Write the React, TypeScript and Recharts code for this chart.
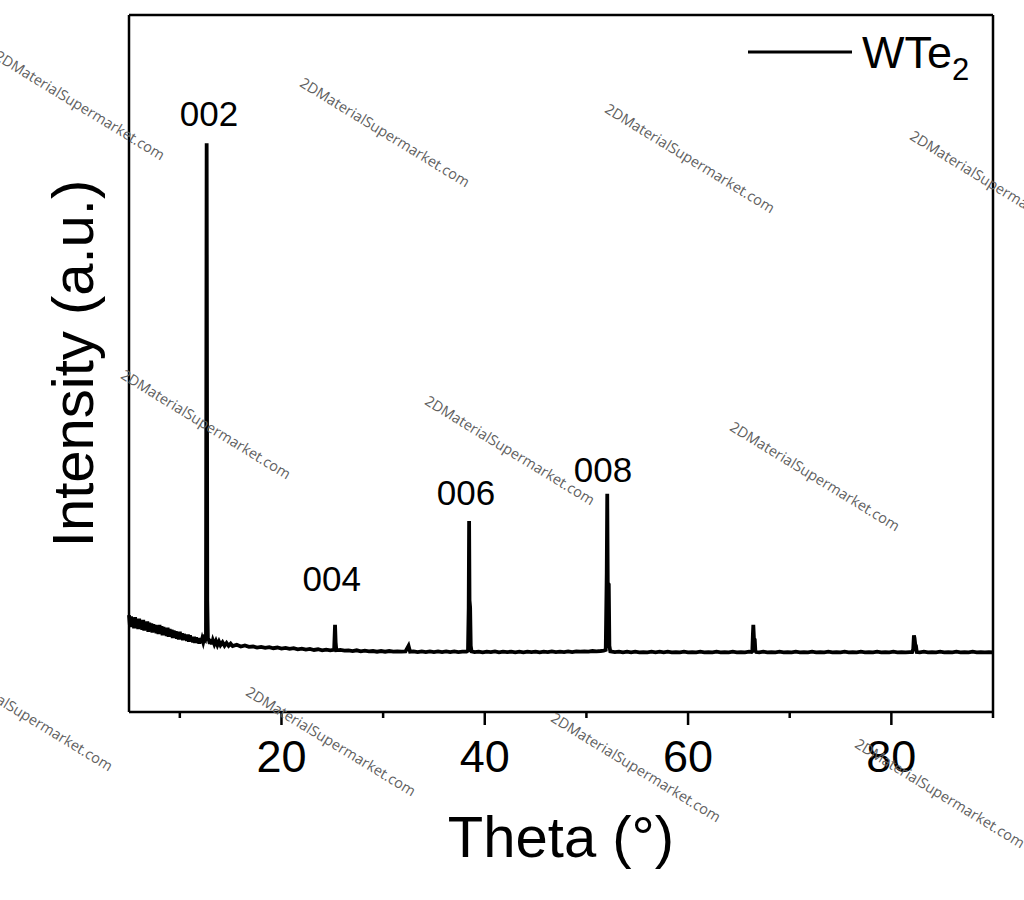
import { LineChart, Line, XAxis, YAxis, ReferenceDot } from "recharts"

// [2theta, counts], split by region
const lowAngleScan: [number, number][] = [
  [5.0, 139], [5.1, 122], [5.2, 137], [5.3, 124], [5.4, 135], [5.5, 120], [5.6, 136], [5.7, 121],
  [5.8, 133], [5.9, 119], [6.0, 134], [6.1, 120], [6.2, 131], [6.3, 118], [6.4, 132], [6.5, 117],
  [6.6, 129], [6.7, 118], [6.8, 130], [6.9, 115], [7.0, 128], [7.1, 116], [7.2, 127], [7.3, 114],
  [7.4, 126], [7.5, 115], [7.6, 125], [7.7, 113], [7.8, 124], [7.9, 112], [8.0, 125], [8.1, 112],
  [8.2, 123], [8.3, 110], [8.4, 122], [8.5, 111], [8.6, 120], [8.7, 109], [8.8, 121], [8.9, 108],
  [9.0, 119], [9.1, 108], [9.2, 118], [9.3, 106], [9.4, 117], [9.5, 107], [9.6, 116], [9.7, 105],
  [9.8, 115], [9.9, 104], [10.0, 115], [10.1, 105], [10.2, 113], [10.3, 103], [10.4, 112], [10.5, 104],
  [10.6, 111], [10.7, 102], [10.8, 111], [10.9, 101], [11.0, 110], [11.1, 102], [11.2, 108], [11.3, 100],
  [11.4, 108], [11.5, 99], [11.6, 107], [11.7, 99], [11.8, 106], [11.9, 98], [12.0, 106], [12.1, 99],
  [12.2, 105], [12.3, 100], [12.4, 106], [12.5, 104],
]

const peak002: [number, number][] = [[12.57, 110], [12.64, 816], [12.7, 160], [12.76, 105]]

const midScan: [number, number][] = [
  [12.85, 104], [12.95, 98], [13.05, 104], [13.15, 97], [13.25, 103], [13.4, 97], [13.55, 102],
  [13.7, 96], [13.85, 101], [14.0, 96], [14.2, 100], [14.4, 95], [14.6, 99], [14.8, 95], [15.0, 98],
  [15.2, 94.5], [15.6, 96.5], [16.0, 94], [16.4, 95.5], [16.8, 93.5], [17.2, 94], [17.6, 92.5],
  [18.0, 93.5], [18.4, 92], [18.8, 93], [19.2, 91.5], [19.6, 92.5], [20.0, 91], [20.4, 92], [20.8, 90.5],
  [21.2, 91.5], [21.6, 90], [22.0, 91], [22.4, 89.5], [22.8, 90.5], [23.2, 89], [23.6, 90], [24.0, 88.5],
  [24.4, 89.5], [24.8, 88.5], [25.1, 89],
]

const peak004: [number, number][] = [[25.18, 89], [25.27, 125], [25.33, 100], [25.4, 88.5]]

const scan25to38: [number, number][] = [
  [25.8, 89], [26.2, 88], [26.6, 88.5], [27.0, 87.5], [27.4, 88.5], [27.8, 87], [28.2, 88], [28.6, 87],
  [29.0, 87.5], [29.4, 86.5], [29.8, 87.5], [30.2, 86.5], [30.6, 87.5], [31.0, 86.5], [31.4, 87],
  [31.8, 86.5], [32.2, 87], [32.5, 95], [32.65, 86.5], [33.0, 87], [33.4, 86], [33.8, 87], [34.2, 86],
  [34.6, 87], [35.0, 86], [35.4, 87], [35.8, 86], [36.2, 87], [36.6, 86], [37.0, 87], [37.4, 86],
  [37.8, 86.5], [38.2, 86.5],
]

const peak006: [number, number][] = [
  [38.35, 88], [38.42, 150], [38.46, 274], [38.5, 160], [38.56, 150], [38.62, 95], [38.7, 87],
]

const scan38to52: [number, number][] = [
  [39.0, 86], [39.4, 86.5], [39.8, 85.5], [40.2, 86.5], [40.6, 86], [41.0, 87], [41.4, 85.5], [41.8, 86.5],
  [42.2, 86], [42.6, 86.5], [43.0, 85.5], [43.4, 86.5], [43.8, 85.5], [44.2, 86.5], [44.6, 86], [45.0, 86.5],
  [45.4, 85.5], [45.8, 86.5], [46.2, 86], [46.6, 87], [47.0, 86], [47.4, 86.5], [47.8, 86], [48.2, 87],
  [48.6, 86], [49.0, 87], [49.4, 86.5], [49.8, 87], [50.2, 86.5], [50.6, 87.5], [51.0, 87], [51.4, 87.5],
  [51.7, 88],
]

const peak008: [number, number][] = [
  [51.9, 89], [52.0, 200], [52.05, 313], [52.1, 185], [52.2, 183], [52.26, 95], [52.35, 87],
]

const scan52to66: [number, number][] = [
  [52.8, 86], [53.2, 86.5], [53.6, 85.5], [54.0, 86.5], [54.4, 85.5], [54.8, 86.5], [55.2, 85.5],
  [55.6, 86], [56.0, 85.5], [56.4, 86.5], [56.8, 85.5], [57.2, 86.5], [57.6, 85.5], [58.0, 86.5],
  [58.4, 85.5], [58.8, 86], [59.2, 85.5], [59.6, 86.5], [60.0, 85.5], [60.4, 86], [60.8, 85.5],
  [61.2, 86.5], [61.6, 85.5], [62.0, 86], [62.4, 85.5], [62.8, 86.5], [63.2, 85.5], [63.6, 86],
  [64.0, 85.5], [64.4, 86.5], [64.8, 85.5], [65.2, 86], [65.6, 85.5], [66.0, 86.5], [66.25, 86],
]

const peak66: [number, number][] = [
  [66.32, 87], [66.38, 112], [66.42, 125], [66.48, 106], [66.56, 104], [66.62, 88], [66.7, 86],
]

const scan66to82: [number, number][] = [
  [67.0, 85.5], [67.4, 86.5], [67.8, 85.5], [68.2, 86], [68.6, 85.5], [69.0, 86.5], [69.4, 85.5],
  [69.8, 86], [70.2, 85.5], [70.6, 86.5], [71.0, 85.5], [71.4, 86], [71.8, 85.5], [72.2, 86.5],
  [72.6, 85.5], [73.0, 86], [73.4, 85.5], [73.8, 86.5], [74.2, 85.5], [74.6, 86], [75.0, 85.5],
  [75.4, 86.5], [75.8, 85.5], [76.2, 86], [76.6, 85.5], [77.0, 86.5], [77.4, 85.5], [77.8, 86],
  [78.2, 85.5], [78.6, 86.5], [79.0, 85.5], [79.4, 86], [79.8, 85.5], [80.2, 86.5], [80.6, 85.5],
  [81.0, 86], [81.4, 85.5], [81.8, 86], [82.05, 86],
]

const peak82: [number, number][] = [
  [82.15, 90], [82.22, 110], [82.28, 106], [82.35, 97], [82.42, 95], [82.5, 86],
]

const highAngleScan: [number, number][] = [
  [82.8, 85.5], [83.2, 86.5], [83.6, 85.5], [84.0, 86], [84.4, 85.5], [84.8, 86.5], [85.2, 85.5],
  [85.6, 86], [86.0, 85.5], [86.4, 86.5], [86.8, 85.5], [87.2, 86], [87.6, 85.5], [88.0, 86.5],
  [88.4, 85.5], [88.8, 86], [89.2, 85.5], [89.6, 86], [90.0, 85.5],
]

const thetaTicks = [10, 20, 30, 40, 50, 60, 70, 80, 90]
const majorTicks = [20, 40, 60, 80]

const peakLabels = [
  { hkl: "002", theta: 12.87, counts: 841 },
  { hkl: "004", theta: 24.94, counts: 173 },
  { hkl: "006", theta: 38.15, counts: 297 },
  { hkl: "008", theta: 51.63, counts: 330 },
]

const scan = [
  ...lowAngleScan, ...peak002, ...midScan, ...peak004, ...scan25to38, ...peak006,
  ...scan38to52, ...peak008, ...scan52to66, ...peak66, ...scan66to82, ...peak82, ...highAngleScan,
].map(([theta, counts]) => ({ theta, counts }))

const watermarkSpots = [
  [80, 105], [385, 132], [690, 158], [995, 185],
  [206, 424], [510, 450], [815, 476],
  [28, 716], [331, 741], [636, 767], [940, 793],
]

const FONT = "'Liberation Sans', Arial, sans-serif"
const frame = { stroke: "#000", strokeWidth: 2.5 }

function ThetaTick({ x, y, payload }: any) {
  const major = majorTicks.includes(payload.value)
  return (
    <g>
      <line x1={x} x2={x} y1={y} y2={y + (major ? 13 : 6)} stroke="#000" strokeWidth={2.5} />
      {major && (
        <text x={x} y={y + 60} textAnchor="middle" fontSize={45} fontFamily={FONT} fill="#000">
          {payload.value}
        </text>
      )}
    </g>
  )
}

function ThetaTitle({ viewBox }: any) {
  return (
    <text x={viewBox.x + viewBox.width / 2} y={viewBox.y + 145} textAnchor="middle" fontSize={58} fontFamily={FONT} fill="#000">
      Theta (°)
    </text>
  )
}

function IntensityTitle({ viewBox }: any) {
  const cx = viewBox.x + viewBox.width - 36
  const cy = viewBox.y + viewBox.height / 2
  return (
    <text x={cx} y={cy} transform={`rotate(-90, ${cx}, ${cy})`} textAnchor="middle" fontSize={58} fontFamily={FONT} fill="#000">
      Intensity (a.u.)
    </text>
  )
}

export default function App() {
  return (
    <div style={{ position: "absolute", left: 0, top: 0, width: 1024, height: 900, overflow: "hidden", background: "#fff" }}>
      <LineChart width={1024} height={900} data={scan} margin={{ top: 14, right: 30, bottom: 128, left: 89 }}>
        <XAxis
          type="number"
          dataKey="theta"
          domain={[5, 90]}
          ticks={thetaTicks}
          height={60}
          tickSize={0}
          tickMargin={0}
          tickLine={false}
          tick={<ThetaTick />}
          axisLine={frame}
          label={<ThetaTitle />}
        />
        <XAxis xAxisId="top" orientation="top" type="number" domain={[5, 90]} height={1} tick={false} tickLine={false} axisLine={frame} />
        <YAxis
          type="number"
          domain={[0, 1000]}
          width={40}
          tick={false}
          tickLine={false}
          axisLine={frame}
          label={<IntensityTitle />}
        />
        <YAxis yAxisId="right" orientation="right" type="number" domain={[0, 1000]} width={1} tick={false} tickLine={false} axisLine={frame} />
        <Line type="linear" dataKey="counts" stroke="#000" strokeWidth={3.8} dot={false} isAnimationActive={false} />
        {peakLabels.map((l) => (
          <ReferenceDot
            key={l.hkl}
            x={l.theta}
            y={l.counts}
            r={0}
            shape={(p: any) => (
              <text x={p.cx} y={p.cy} textAnchor="middle" fontSize={35} fontFamily={FONT} fill="#000">
                {l.hkl}
              </text>
            )}
          />
        ))}
      </LineChart>

      <svg style={{ position: "absolute", left: 740, top: 20 }} width={280} height={75}>
        <line x1={8} x2={112} y1={32} y2={32} stroke="#000" strokeWidth={3} />
        <text x={122} y={48} fontSize={45} fontFamily={FONT} fill="#000">
          WTe
          <tspan fontSize={31} dy={12}>2</tspan>
        </text>
      </svg>

      {watermarkSpots.map(([cx, cy], i) => (
        <div
          key={i}
          style={{
            position: "absolute",
            left: cx,
            top: cy,
            transform: "translate(-50%, -50%) rotate(31.4deg)",
            whiteSpace: "nowrap",
            fontFamily: "'Open Sans', sans-serif",
            fontSize: 14.5,
            color: "#5f5f5f",
            pointerEvents: "none",
          }}
        >
          2DMaterialSupermarket.com
        </div>
      ))}
    </div>
  )
}
